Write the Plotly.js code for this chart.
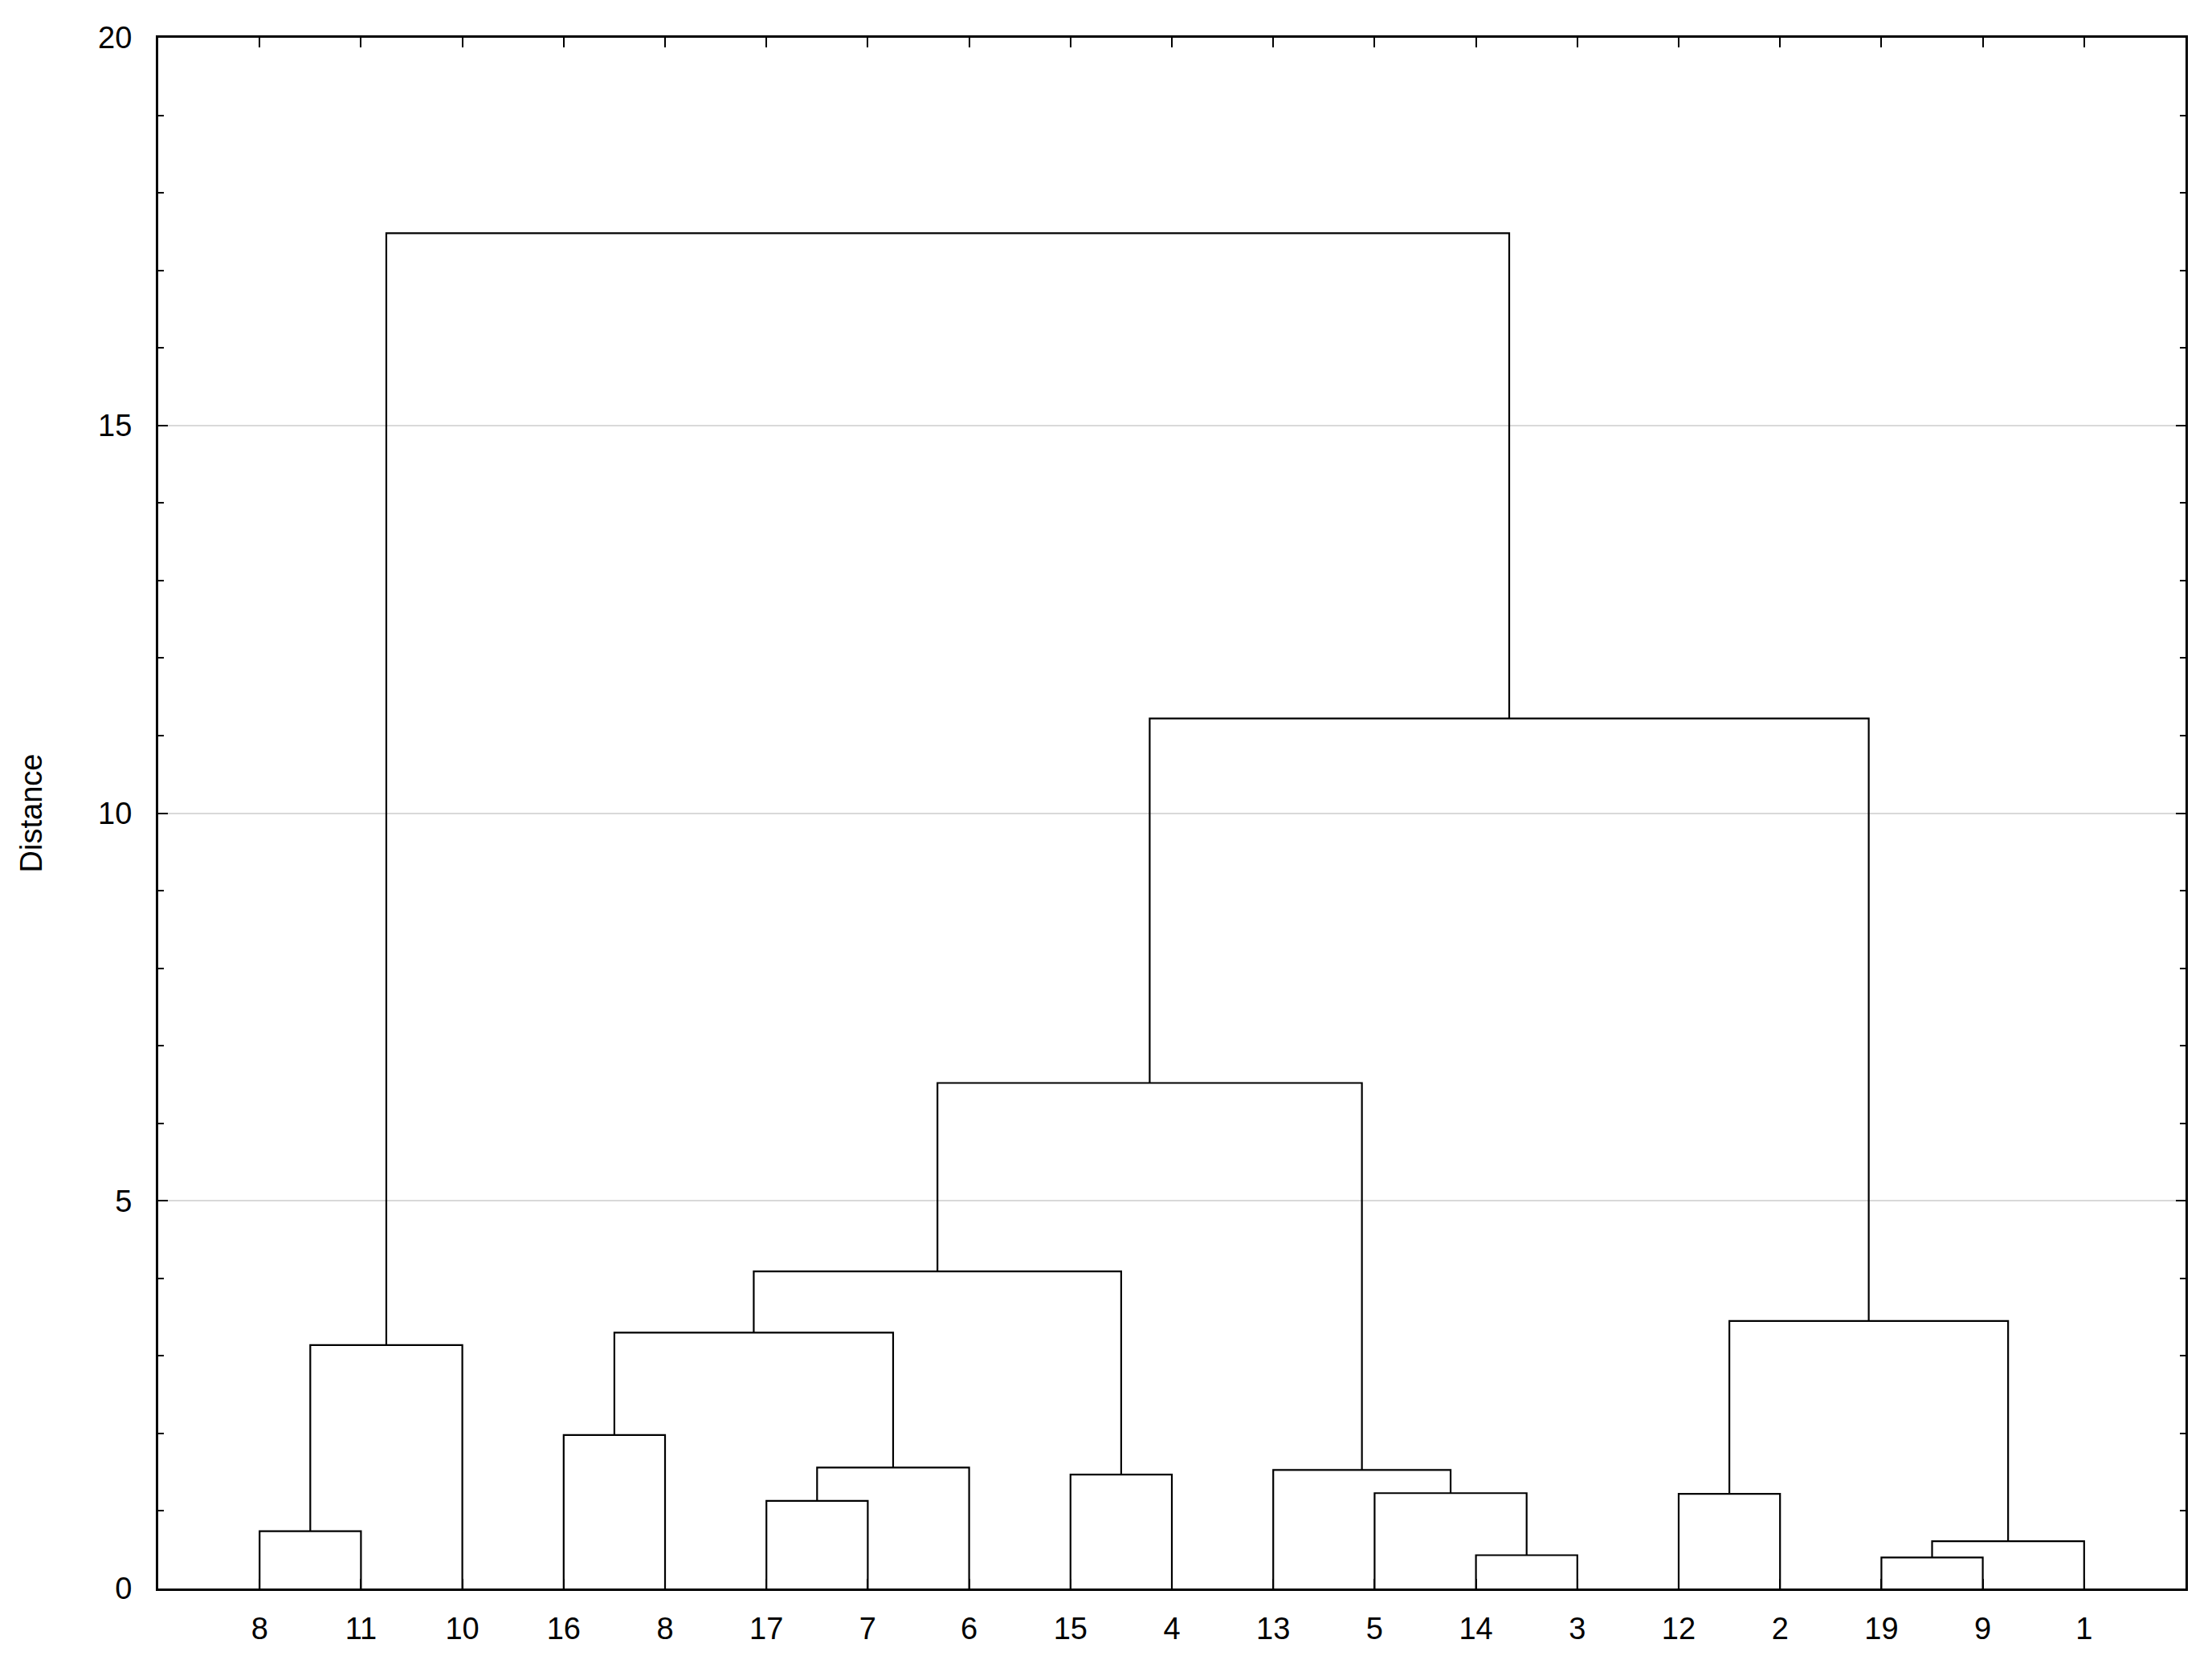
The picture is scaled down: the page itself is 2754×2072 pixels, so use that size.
<!DOCTYPE html>
<html>
<head>
<meta charset="utf-8">
<script src="https://cdn.plot.ly/plotly-3.0.1.min.js"></script>
<style>
  html, body { margin: 0; padding: 0; background: #fff; }
  #dendro { width: 2754px; height: 2072px; }
</style>
</head>
<body>
<div id="dendro"></div>
<script>
// leaf labels, left to right as in the tree
var leafLabels = ["8", "11", "10", "16", "8", "17", "7", "6", "15", "4",
                  "13", "5", "14", "3", "12", "2", "19", "9", "1"];

// linkage: nodes 0..18 are the leaves, merge k makes node 19 + k
var mergeLeft   = [0, 19, 3, 5, 22, 21, 8, 24, 12, 11, 10, 26, 14, 16, 32, 31, 30, 20];
var mergeRight  = [1, 2, 4, 6, 7, 23, 9, 25, 13, 27, 28, 29, 15, 17, 18, 33, 34, 35];
var mergeHeight = [0.74, 3.14, 1.98, 1.13, 1.56, 3.30, 1.47, 4.09, 0.43, 1.23,
                   1.53, 6.52, 1.22, 0.40, 0.61, 3.45, 11.22, 17.48];

// walk the linkage: each node gets an x (mean of children) and a height
var nodeX = [], nodeH = [];
leafLabels.forEach(function (lab, i) { nodeX.push(i + 1); nodeH.push(0); });

var xs = [], ys = [];
for (var k = 0; k < mergeHeight.length; k++) {
  var a = mergeLeft[k], b = mergeRight[k], h = mergeHeight[k];
  xs.push(nodeX[a], nodeX[a], nodeX[b], nodeX[b], null);
  ys.push(nodeH[a], h, h, nodeH[b], null);
  nodeX.push((nodeX[a] + nodeX[b]) / 2);
  nodeH.push(h);
}

var leafPos = leafLabels.map(function (lab, i) { return i + 1; });

var tree = {
  x: xs,
  y: ys,
  type: "scatter",
  mode: "lines",
  line: { color: "#000", width: 2.2 },
  connectgaps: false,
  hoverinfo: "skip",
  showlegend: false
};

var font = { family: "Liberation Sans, Arial, sans-serif", size: 38, color: "#000" };

var layout = {
  width: 2754,
  height: 2072,
  margin: { l: 197, r: 33, t: 47, b: 94 },
  paper_bgcolor: "#fff",
  plot_bgcolor: "#fff",
  font: font,
  showlegend: false,
  xaxis: {
    range: [0, 20],
    tickmode: "array",
    tickvals: leafPos,
    ticktext: leafLabels,
    ticks: "inside",
    ticklen: 12,
    tickwidth: 2,
    tickcolor: "#000",
    ticklabelstandoff: 14,
    showline: true,
    linecolor: "#000",
    linewidth: 3,
    mirror: "ticks",
    showgrid: false,
    zeroline: false,
    automargin: false,
    tickfont: font
  },
  yaxis: {
    range: [0, 20],
    tickmode: "linear",
    tick0: 0,
    dtick: 5,
    ticks: "inside",
    ticklen: 12,
    tickwidth: 2,
    tickcolor: "#000",
    ticklabelstandoff: 22,
    showline: true,
    linecolor: "#000",
    linewidth: 3,
    mirror: "ticks",
    showgrid: true,
    gridcolor: "#d9d9d9",
    gridwidth: 2,
    zeroline: false,
    automargin: false,
    tickfont: font,
    minor: { dtick: 1, ticks: "inside", ticklen: 7, tickwidth: 2, tickcolor: "#000", showgrid: false },
    title: { text: "Distance", font: font, standoff: 58 }
  }
};

Plotly.newPlot("dendro", [tree], layout, { staticPlot: true, displayModeBar: false });
</script>
</body>
</html>
